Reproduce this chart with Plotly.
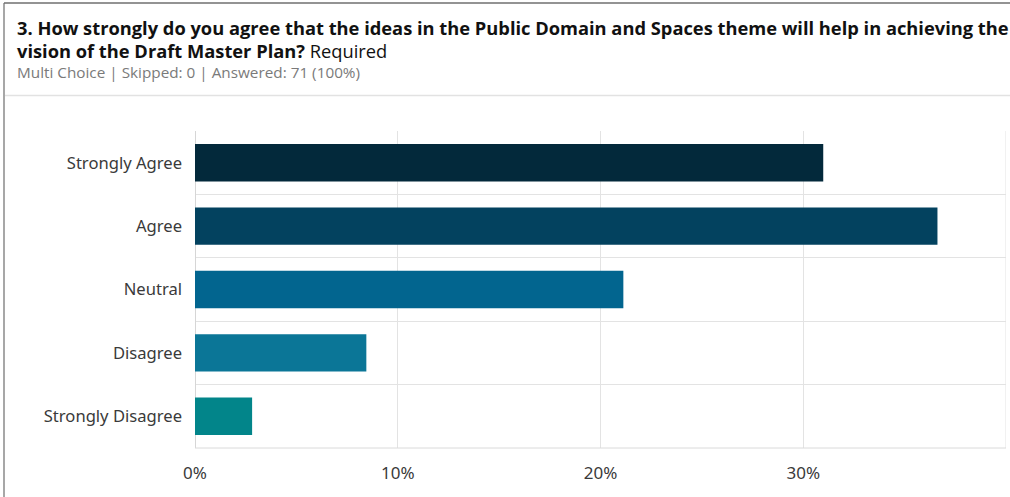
import plotly.graph_objects as go

# Survey responses: question 3, Public Domain and Spaces theme (71 answers)
categories = ["Strongly Agree", "Agree", "Neutral", "Disagree", "Strongly Disagree"]
counts = [22, 26, 15, 6, 2]
answered = 71
percents = [c / answered * 100 for c in counts]
bar_colors = ["#03293b", "#03425f", "#02658f", "#0b7697", "#02858a"]
x_ticks = [0, 10, 20, 30]
x_tick_labels = ["0%", "10%", "20%", "30%"]

title_line1 = "<b>3. How strongly do you agree that the ideas in the Public Domain and Spaces theme will help in achieving the</b>"
title_line2 = "<b>vision of the Draft Master Plan?</b> Required"
subtitle = "Multi Choice | Skipped: 0 | Answered: 71 (100%)"

W, H = 1010, 497
ML, MR, MT, MB = 195, 4, 131, 49
PW, PH = W - ML - MR, H - MT - MB


def px(x):
    return (x - ML) / PW


def py(y):
    return (H - MB - y) / PH


positions = list(range(len(categories)))

fig = go.Figure(
    go.Bar(
        x=percents,
        y=positions,
        orientation="h",
        width=0.59,
        marker=dict(color=bar_colors, line=dict(width=0)),
        hoverinfo="skip",
    )
)

grid = "#e3e3e3"
fig.update_layout(
    width=W,
    height=H,
    margin=dict(l=ML, r=MR, t=MT, b=MB, pad=0),
    paper_bgcolor="white",
    plot_bgcolor="white",
    showlegend=False,
    font=dict(family="Noto Sans", color="#3a3a3a", size=16),
    xaxis=dict(
        range=[0, 40],
        tickvals=x_ticks,
        ticktext=x_tick_labels,
        showgrid=True,
        gridcolor=grid,
        gridwidth=1,
        zeroline=True,
        zerolinecolor="#d6d6d6",
        zerolinewidth=1,
        showline=False,
        ticks="",
        ticklabelstandoff=13,
        tickfont=dict(size=17, color="#3a3a3a"),
        fixedrange=True,
    ),
    yaxis=dict(
        range=[4.5, -0.5],
        tickvals=positions,
        ticktext=categories,
        showgrid=False,
        zeroline=False,
        showline=False,
        ticks="",
        ticklabelstandoff=12,
        tickfont=dict(size=16.6, color="#3a3a3a"),
        minor=dict(
            tickvals=[p - 0.5 for p in positions] + [positions[-1] + 0.5],
            showgrid=True,
            gridcolor=grid,
            gridwidth=1,
            ticks="",
        ),
        fixedrange=True,
    ),
)

# right edge of the plot frame
fig.add_shape(type="line", xref="x", yref="paper", x0=40, x1=40, y0=0, y1=1,
              line=dict(color=grid, width=1))
# bottom edge of the plot frame
fig.add_shape(type="line", xref="paper", yref="paper", x0=0, x1=1, y0=0, y1=0,
              line=dict(color="#dadada", width=1))

# card borders and header separator
fig.add_shape(type="line", xref="paper", yref="paper", x0=px(4), x1=px(4), y0=py(3), y1=py(H + 5),
              line=dict(color="#8a8a8a", width=1.5))
fig.add_shape(type="line", xref="paper", yref="paper", x0=px(4), x1=px(W + 5), y0=py(3), y1=py(3),
              line=dict(color="#6f6f6f", width=1.5))
fig.add_shape(type="line", xref="paper", yref="paper", x0=px(5), x1=px(W + 5), y0=py(95.5), y1=py(95.5),
              line=dict(color="#e2e2e2", width=1.5))

# header text
fig.add_annotation(text=title_line1, xref="paper", yref="paper", x=px(15), y=py(27),
                   xanchor="left", yanchor="middle", showarrow=False,
                   font=dict(family="Open Sans", size=18.3, color="#111111"))
fig.add_annotation(text=title_line2, xref="paper", yref="paper", x=px(15), y=py(50),
                   xanchor="left", yanchor="middle", showarrow=False,
                   font=dict(family="Open Sans", size=18.3, color="#111111"))
fig.add_annotation(text=subtitle, xref="paper", yref="paper", x=px(15), y=py(72),
                   xanchor="left", yanchor="middle", showarrow=False,
                   font=dict(family="Open Sans", size=15.3, color="#7a7a7a"))

fig.write_html("out.html", config={"displayModeBar": False})
